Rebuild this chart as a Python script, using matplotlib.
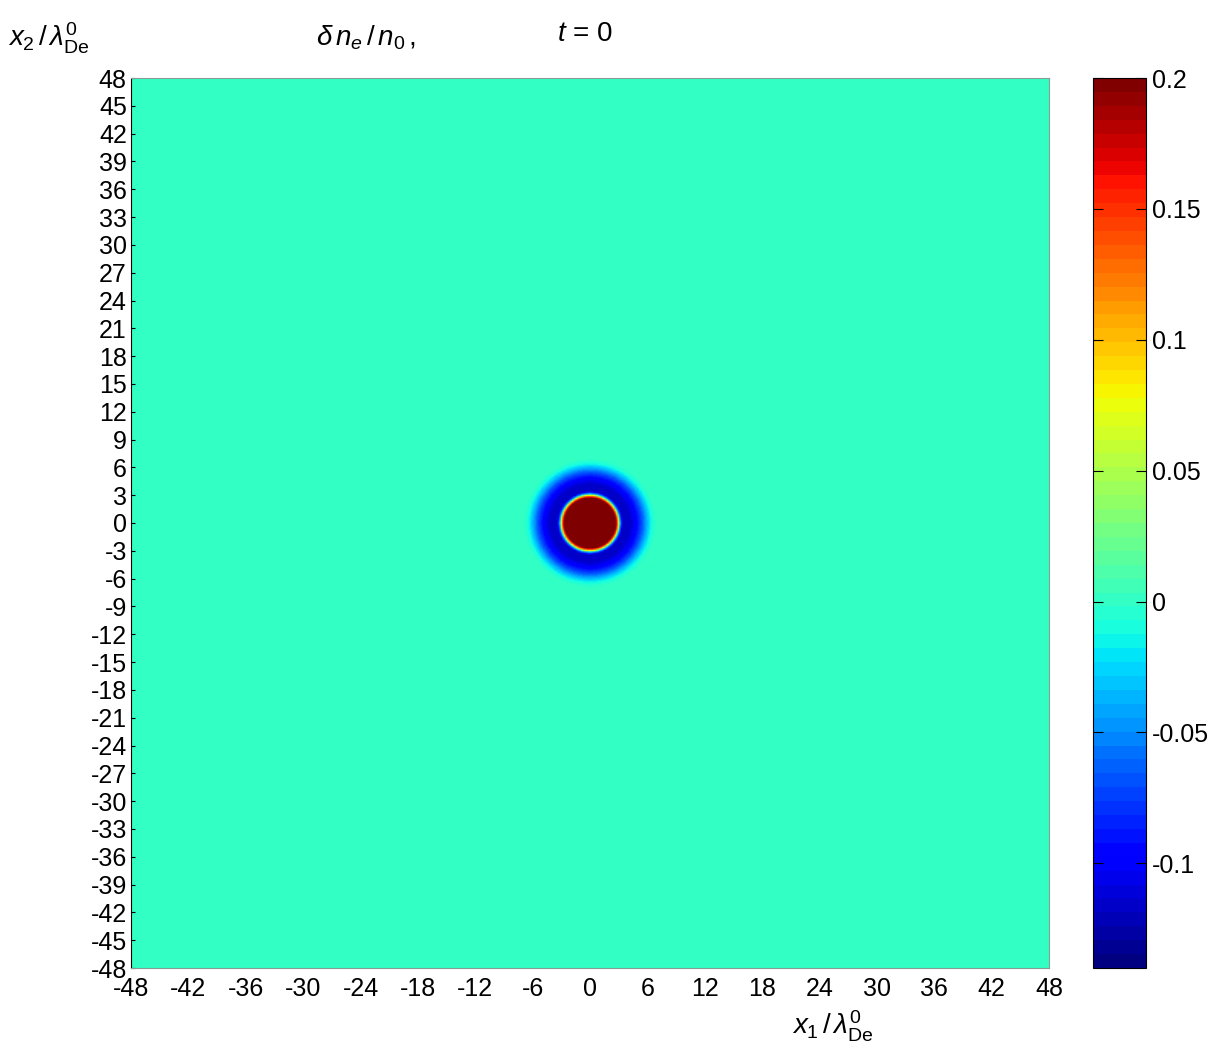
import numpy as np
import matplotlib
matplotlib.use("Agg")
import matplotlib.pyplot as plt
from matplotlib.colors import ListedColormap

plt.rcParams['font.family'] = ['Liberation Sans', 'DejaVu Sans']
plt.rcParams['mathtext.fontset'] = 'custom'
plt.rcParams['mathtext.rm'] = 'Liberation Sans'
plt.rcParams['mathtext.it'] = 'Liberation Sans:italic'
plt.rcParams['axes.unicode_minus'] = False

# Domain and ticks
x_lim = [-48, 48]
y_lim = [-48, 48]
x_ticks = list(range(-48, 49, 6))
y_ticks = list(range(-48, 49, 3))
cbar_ticks = [-0.1, -0.05, 0, 0.05, 0.1, 0.15, 0.2]
cbar_labels = ['-0.1', '-0.05', '0', '0.05', '0.1', '0.15', '0.2']
vmin, vmax = -0.14, 0.2

# Radial profile of delta n_e / n_0 (r in Debye lengths)
profile_r = [0.0, 2.6, 2.85, 3.0, 3.15, 3.4, 4.2, 4.9, 5.5, 6.0, 6.4, 6.9, 48.0]
profile_v = [0.25, 0.25, 0.15, 0.07, -0.04, -0.115, -0.115, -0.095, -0.065, -0.035, -0.012, 0.0, 0.0]

n = 600
xs = np.linspace(x_lim[0], x_lim[1], n)
ys = np.linspace(y_lim[0], y_lim[1], n)
X, Y = np.meshgrid(xs, ys)
R = np.sqrt(X**2 + Y**2)
F = np.interp(R, profile_r, profile_v)

cmap = ListedColormap(plt.get_cmap('jet')(np.linspace(0, 1, 64)))

fig = plt.figure(figsize=(12.15, 10.61), dpi=100)
W, H = 1215, 1061
ax = fig.add_axes([131 / W, 1 - 968 / H, (1049 - 131) / W, (968 - 78) / H])
cax = fig.add_axes([1093 / W, 1 - 968 / H, (1146 - 1093) / W, (968 - 78) / H])

im = ax.imshow(F, extent=[x_lim[0], x_lim[1], y_lim[0], y_lim[1]], origin='lower',
               cmap=cmap, vmin=vmin, vmax=vmax, aspect='auto', interpolation='bilinear')
ax.set_xlim(x_lim)
ax.set_ylim(y_lim)
ax.set_xticks(x_ticks)
ax.set_yticks(y_ticks)
ax.tick_params(direction='in', length=3, labelsize=18, pad=3)
ax.tick_params(axis='x', length=0, pad=6.5)
for s in ['top', 'right', 'bottom']:
    ax.spines[s].set_color('#8a9a96')
    ax.spines[s].set_linewidth(0.8)
ax.spines['left'].set_color('black')
ax.spines['left'].set_linewidth(0.8)

cb = fig.colorbar(im, cax=cax, ticks=cbar_ticks)
cb.ax.set_yticklabels(cbar_labels)
cb.ax.tick_params(direction='in', length=7, labelsize=18, left=True, right=True, pad=4)
cb.outline.set_linewidth(0.8)

fig.text(8 / W, 1 - 38 / H, r'$x_2\,/\,\lambda^{0}_{\mathrm{De}}$', fontsize=20, va='center', ha='left')
fig.text(316 / W, 1 - 38 / H, r'$\delta\,n_e\,/\,n_0\,,$', fontsize=20, va='center', ha='left')
fig.text(557 / W, 1 - 34 / H, r'$t$ = 0', fontsize=20, va='center', ha='left')
fig.text(792 / W, 1 - 1026 / H, r'$x_1\,/\,\lambda^{0}_{\mathrm{De}}$', fontsize=20, va='center', ha='left')

fig.savefig('out.png', dpi=100)
